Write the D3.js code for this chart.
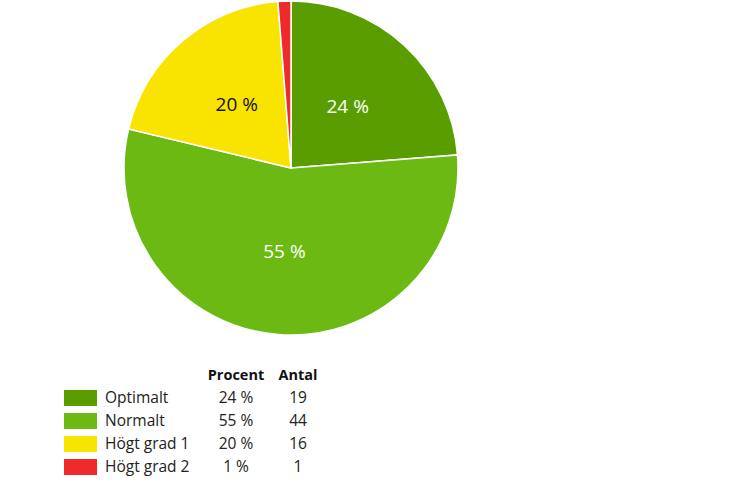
<!DOCTYPE html>
<html>
<head>
<meta charset="utf-8">
<script src="https://cdn.jsdelivr.net/npm/d3@7"></script>
<style>
  body { margin: 0; background: #fff; }
  svg text { font-family: "Open Sans", "Noto Sans", sans-serif; }
</style>
</head>
<body>
<div id="chart"></div>
<script>
// --data--
const categories = ["Optimalt", "Normalt", "Högt grad 1", "Högt grad 2"];
const counts = [19, 44, 16, 1];
const percentLabels = ["24 %", "55 %", "20 %", "1 %"];
const colors = ["#5a9d00", "#6cb914", "#f9e300", "#ee2a2a"];
const labelColors = ["#ffffff", "#ffffff", "#111111", "#ffffff"];
const headers = ["Procent", "Antal"];

const svg = d3.select("#chart")
  .append("svg")
  .attr("width", 750)
  .attr("height", 497);

// --pie--
const cx = 291, cy = 168, radius = 167;

const pie = d3.pie().sort(null).value(d => d.count);
const arc = d3.arc().innerRadius(0).outerRadius(radius);
const labelArc = d3.arc().innerRadius(radius * 0.5).outerRadius(radius * 0.5);

const data = categories.map((c, i) => ({
  name: c, count: counts[i], label: percentLabels[i], color: colors[i], textColor: labelColors[i]
}));

const g = svg.append("g").attr("transform", `translate(${cx},${cy})`);

const slices = g.selectAll(".slice")
  .data(pie(data))
  .enter()
  .append("g")
  .attr("class", "slice");

slices.append("path")
  .attr("d", arc)
  .attr("fill", d => d.data.color)
  .attr("stroke", "#ffffff")
  .attr("stroke-width", 1.5);

// small slices get no label inside
slices.filter(d => d.data.count / d3.sum(counts) > 0.05)
  .append("text")
  .attr("transform", d => `translate(${labelArc.centroid(d)})`)
  .attr("text-anchor", "middle")
  .attr("dy", "0.35em")
  .style("font-size", "19px")
  .style("fill", d => d.data.textColor)
  .text(d => d.data.label);

// --legend table--
const legend = svg.append("g").attr("transform", "translate(64,390)");
const rowH = 23;
const colX = [236 - 64, 298 - 64];

legend.selectAll(".hdr")
  .data(headers)
  .enter()
  .append("text")
  .attr("class", "hdr")
  .attr("x", (d, i) => colX[i])
  .attr("y", -10)
  .attr("text-anchor", "middle")
  .style("font-size", "14.5px")
  .style("font-weight", "bold")
  .style("fill", "#111")
  .text(d => d);

const rows = legend.selectAll(".row")
  .data(data)
  .enter()
  .append("g")
  .attr("class", "row")
  .attr("transform", (d, i) => `translate(0,${i * rowH})`);

rows.append("rect")
  .attr("width", 33)
  .attr("height", 16)
  .attr("fill", d => d.color);

rows.append("text")
  .attr("x", 41)
  .attr("y", 13)
  .style("font-size", "15.5px")
  .style("fill", "#222")
  .text(d => d.name);

rows.append("text")
  .attr("x", colX[0])
  .attr("y", 13)
  .attr("text-anchor", "middle")
  .style("font-size", "15.5px")
  .style("fill", "#222")
  .text(d => d.label);

rows.append("text")
  .attr("x", colX[1])
  .attr("y", 13)
  .attr("text-anchor", "middle")
  .style("font-size", "15.5px")
  .style("fill", "#222")
  .text(d => d.count);
</script>
</body>
</html>
